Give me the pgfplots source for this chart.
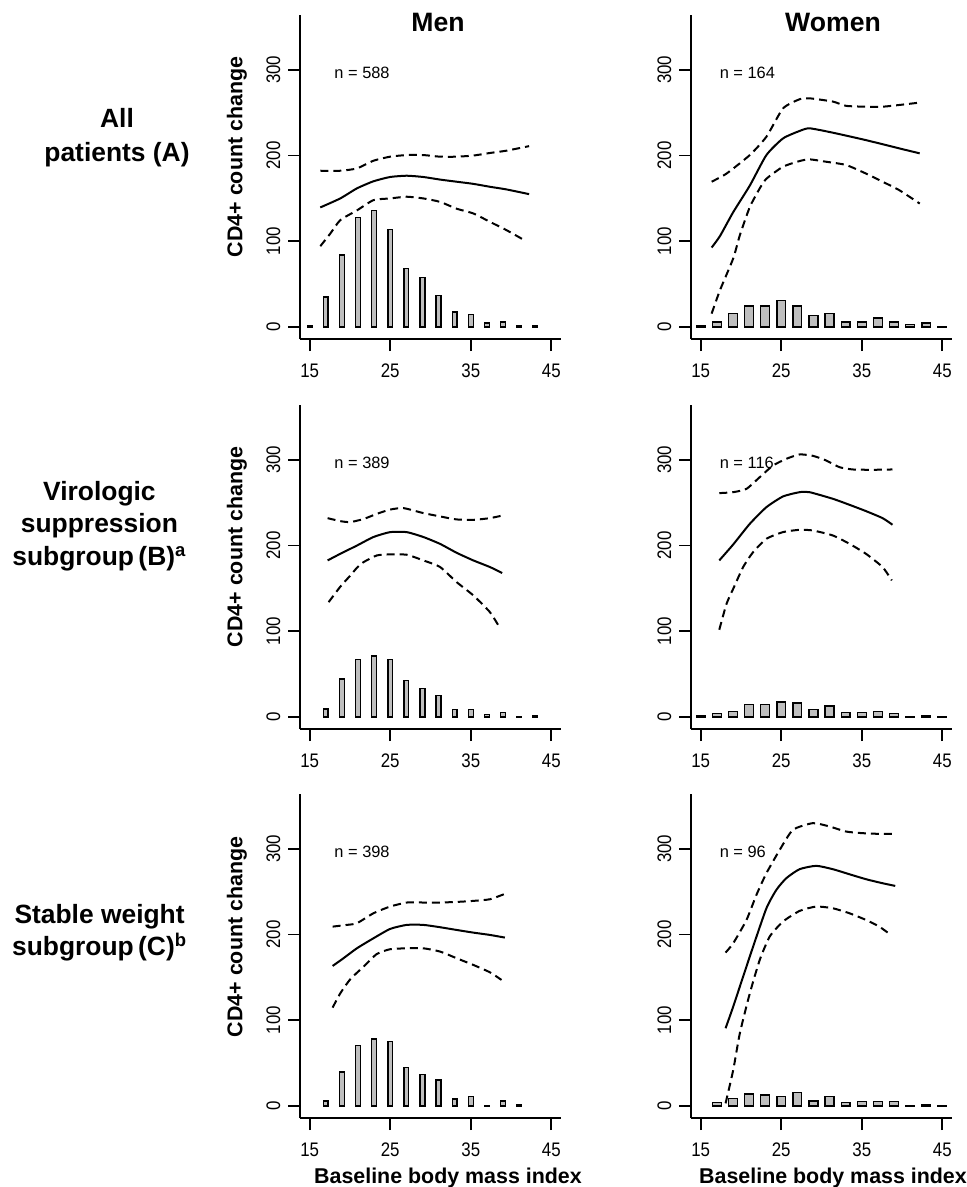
\documentclass[border=0pt]{standalone}
\usepackage{fontspec}
\setmainfont{Liberation Sans}
\newfontfamily\ticksfont[FakeStretch=0.86]{Liberation Sans}
\usepackage{pgfplots}
\pgfplotsset{compat=1.18}
\definecolor{barg}{RGB}{190,190,190}

\pgfplotsset{
  panel/.style={
    scale only axis, width=130.5pt, height=162pt,
    xmin=13.8, xmax=46.2, ymin=-14, ymax=364,
    axis x line=bottom, axis y line=left,
    axis line style={-, line width=0.9pt},
    xtick={15,25,35,45}, ytick={0,100,200,300},
    tick align=outside, major tick length=6pt,
    tick style={line width=0.9pt, black},
    tick label style={font=\ticksfont\fontsize{9.8}{11}\selectfont, inner sep=0pt},
    xticklabel shift=6.3pt,
    yticklabel style={rotate=90, anchor=south},
    yticklabel shift=3.6pt,
    /pgf/number format/assume math mode=true,
    clip=false,
  },
  hist/.style={ybar, bar shift=0pt, fill=barg, draw=black, line width=0.7pt},
  fit/.style={black, line width=1pt, smooth, tension=0.35},
  ci/.style={black, line width=1pt, dash pattern=on 4pt off 2.5pt, smooth, tension=0.35},
}
\newcommand{\ntext}[2]{\node[anchor=west, font=\fontsize{8.2}{10}\selectfont] at (axis cs:#1,296) {#2};}

\begin{document}
\begin{tikzpicture}
\useasboundingbox (0,0) rectangle (483.5pt,-593.5pt);

% ---- row A, men
\begin{axis}[panel, at={(150pt,-169.5pt)}, anchor=south west]
  \addplot[hist, bar width=0.6] coordinates {
    (15,1)(17,35)(19,84)(21,128)(23,136)(25,114)(27,68)(29,58)(31,37)(33,17.5)(35,14.5)(37,4.5)(39,6)(41,1)(43,1)};
  \addplot[fit] coordinates {
    (16.32,139.5)(18.80,150)(20.86,161.7)(22.92,170)(24.99,175)(27.05,176.5)(29.11,175)(31.18,172)(33.24,169.5)(35.31,167)(37.37,163.6)(39.43,160.5)(42.24,155)};
  \addplot[ci] coordinates {
    (16.32,182.3)(18.80,182.3)(20.86,185)(22.92,194)(24.99,198.7)(27.05,200.6)(29.11,200.6)(31.18,198.7)(33.24,198.7)(35.31,200)(37.37,203)(39.43,205.7)(42.24,211)};
  \addplot[ci] coordinates {
    (16.32,94.3)(17.56,109)(18.80,124.7)(20.86,136)(22.92,148)(24.99,150)(27.05,152)(29.11,150)(31.18,146)(33.24,138)(35.31,132.5)(37.37,122.7)(39.43,113)(41.70,101)};
  \ntext{17.2}{n = 588}
\end{axis}

% ---- row A, women
\begin{axis}[panel, at={(345.5pt,-169.5pt)}, anchor=south west]
  \addplot[hist, bar width=1.1] coordinates {
    (15,1)(17,6)(19,15.5)(21,24.5)(23,24.5)(25,31)(27,24.5)(29,13.5)(31,15.5)(33,6)(35,6)(37,10.5)(39,6)(41,3)(43,4.5)(45,0.5)};
  \addplot[fit] coordinates {
    (16.36,92.7)(17.39,106)(19.04,134)(21.1,165)(23.16,200.6)(25.22,220)(27.28,228.7)(28.51,231.8)(31.4,226.7)(35.52,218)(39.64,208.4)(42.19,202.6)};
  \addplot[ci] coordinates {
    (16.36,169.5)(18.21,179)(21.1,200.6)(23.16,222)(25.22,255)(27.28,265.7)(28.51,266.8)(31.4,263)(33.05,258)(35.52,257)(37.58,257)(39.64,259)(42.19,261.8)};
  \addplot[ci] coordinates {
    (16.36,15.6)(17.39,42.8)(19.04,80)(19.86,107)(21.1,140)(22.33,161.7)(23.16,173)(25.22,187)(27.28,193.6)(28.51,195.6)(30.57,192.8)(33.05,189)(35.52,179)(37.58,169.5)(39.64,159.7)(42.19,144)};
  \ntext{16.5}{n = 164}
\end{axis}

% ---- row B, men
\begin{axis}[panel, at={(150pt,-364.5pt)}, anchor=south west]
  \addplot[hist, bar width=0.6] coordinates {
    (17,9.5)(19,44.5)(21,67)(23,71)(25,67)(27,42.5)(29,33)(31,25)(33,9)(35,9)(37,3)(39,5.5)(41,0.5)(43,2)};
  \addplot[fit] coordinates {
    (17.23,182.7)(18.8,190.4)(20.86,200)(22.92,210)(24.99,215.7)(27.05,215.7)(29.11,210)(31.18,202)(33.24,191.6)(35.31,182.7)(37.37,175)(38.9,168)};
  \addplot[ci] coordinates {
    (17.23,232)(18.8,228.5)(20.04,227.4)(21.69,231)(23.34,237)(24.99,242)(26.64,243.7)(29.11,237.9)(31.18,234)(33.24,230.5)(35.31,230)(37.37,232)(38.9,235)};
  \addplot[ci] coordinates {
    (17.35,134)(18.8,152)(20.04,165)(20.86,174)(21.69,180.7)(23.34,188.5)(24.99,189.7)(27.05,189.3)(29.11,182.7)(31.18,175)(33.24,157.4)(35.31,141.9)(37.37,122.4)(38.61,104)};
  \ntext{17.2}{n = 389}
\end{axis}

% ---- row B, women
\begin{axis}[panel, at={(345.5pt,-364.5pt)}, anchor=south west]
  \addplot[hist, bar width=1.1] coordinates {
    (15,1)(17,3.9)(19,6.6)(21,14.4)(23,14.4)(25,17.5)(27,16.3)(29,9)(31,12.8)(33,5)(35,5)(37,6.6)(39,3.9)(41,0.5)(43,1)(45,0.5)};
  \addplot[fit] coordinates {
    (17.31,182.7)(19.04,201.3)(21.1,225.4)(23.16,244.8)(25.22,257.3)(27.28,262.3)(28.51,262.3)(31.4,254.6)(33.46,247.6)(35.52,240.2)(37.58,232)(38.81,224.3)};
  \addplot[ci] coordinates {
    (17.31,261.2)(19.04,262.3)(20.69,266.2)(22.33,279.8)(23.98,293.4)(25.63,301.2)(27.28,306.3)(28.93,304.7)(30.57,299.3)(32.22,291.5)(33.87,288.8)(36.34,288.4)(38.81,288.8)};
  \addplot[ci] coordinates {
    (17.31,101.8)(18.21,132.1)(19.04,149.6)(20.27,174.9)(21.51,192.4)(23.16,207.9)(25.22,215.7)(27.28,218.4)(28.93,217.6)(31.4,211.8)(33.46,202.1)(35.52,190.4)(37.58,174.9)(38.73,159.4)};
  \ntext{16.5}{n = 116}
\end{axis}

% ---- row C, men
\begin{axis}[panel, at={(150pt,-559pt)}, anchor=south west]
  \addplot[hist, bar width=0.6] coordinates {
    (17,6)(19,39.5)(21,70.5)(23,78)(25,75)(27,45)(29,37)(31,30.5)(33,8)(35,11)(37,0.5)(39,6)(41,2)};
  \addplot[fit] coordinates {
    (17.85,163.4)(19.2,172.4)(20.86,184)(22.92,195.7)(24.99,206.6)(27.05,211.3)(29.11,211.3)(31.18,208.6)(33.24,205.4)(35.31,202.3)(37.37,199.6)(39.23,196.5)};
  \addplot[ci] coordinates {
    (17.85,209.3)(19.62,211.3)(20.86,213.2)(22.92,224.9)(24.99,232.7)(27.05,237.4)(29.11,237.4)(31.18,237.4)(33.24,238.1)(35.31,239.3)(37.37,241.2)(39.23,247.5)};
  \addplot[ci] coordinates {
    (17.85,114.8)(18.8,131.5)(20.04,147.9)(21.69,162.6)(23.34,177.4)(24.99,182.9)(27.05,184)(29.11,184)(31.18,180.2)(33.24,172.4)(35.31,164.6)(37.37,156)(38.81,147.1)};
  \ntext{17.2}{n = 398}
\end{axis}

% ---- row C, women
\begin{axis}[panel, at={(345.5pt,-559pt)}, anchor=south west]
  \addplot[hist, bar width=1.1] coordinates {
    (17,3.9)(19,8.9)(21,14)(23,12.8)(25,10.9)(27,15.6)(29,5.8)(31,10.9)(33,3.9)(35,5)(37,5)(39,5)(41,0.3)(43,1)(45,0.3)};
  \addplot[fit] coordinates {
    (18.09,90.7)(19.04,116)(20.27,151)(21.51,186)(23.16,230.7)(24.39,252.1)(25.63,265.8)(27.28,276.3)(29.34,280.2)(31.4,276.3)(33.46,270.4)(35.52,264.6)(37.58,259.9)(39.15,256.8)};
  \addplot[ci] coordinates {
    (18.09,179)(19.04,189.9)(20.69,217.1)(21.92,246.3)(23.16,271.6)(24.81,298.8)(26.45,322.2)(28.93,330)(30.99,326.1)(33.05,320.2)(35.11,318.3)(37.17,317.5)(39.15,317.5)};
  \addplot[ci] coordinates {
    (18.09,3.1)(19.04,42)(19.86,84.8)(21.1,131.5)(22.33,170.4)(23.57,197.7)(25.22,215.2)(27.28,227.6)(29.34,232.7)(31.4,230.7)(33.46,224.9)(35.52,217.1)(37.17,209.3)(38.61,199.6)};
  \ntext{16.5}{n = 96}
\end{axis}

% column titles
\node[anchor=base, font=\bfseries\fontsize{13.3}{16}\selectfont] at (219pt,-15.85pt) {Men};
\node[anchor=base, font=\bfseries\fontsize{13.3}{16}\selectfont] at (416.5pt,-15.85pt) {Women};

% row labels
\begin{scope}[every node/.style={anchor=base, font=\bfseries\fontsize{13.2}{16}\selectfont}]
  \node at (58.5pt,-64pt) {All};
  \node at (58.5pt,-81pt) {patients (A)};
  \node at (49.7pt,-250pt) {Virologic};
  \node at (49.7pt,-266.3pt) {suppression};
  \node at (49.7pt,-282.5pt) {subgroup\,(B)\textsuperscript{a}};
  \node at (49.8pt,-461.6pt) {Stable weight};
  \node at (49.8pt,-477.5pt) {subgroup\,(C)\textsuperscript{b}};
\end{scope}

% axis titles
\begin{scope}[every node/.style={font=\bfseries\fontsize{10.7}{12}\selectfont}]
  \node[rotate=90] at (118.5pt,-78.5pt) {CD4+ count change};
  \node[rotate=90] at (118.5pt,-273.5pt) {CD4+ count change};
  \node[rotate=90] at (118.5pt,-468.5pt) {CD4+ count change};
  \node[anchor=base] at (224pt,-591.5pt) {Baseline body mass index};
  \node[anchor=base] at (416.5pt,-591.5pt) {Baseline body mass index};
\end{scope}
\end{tikzpicture}
\end{document}
